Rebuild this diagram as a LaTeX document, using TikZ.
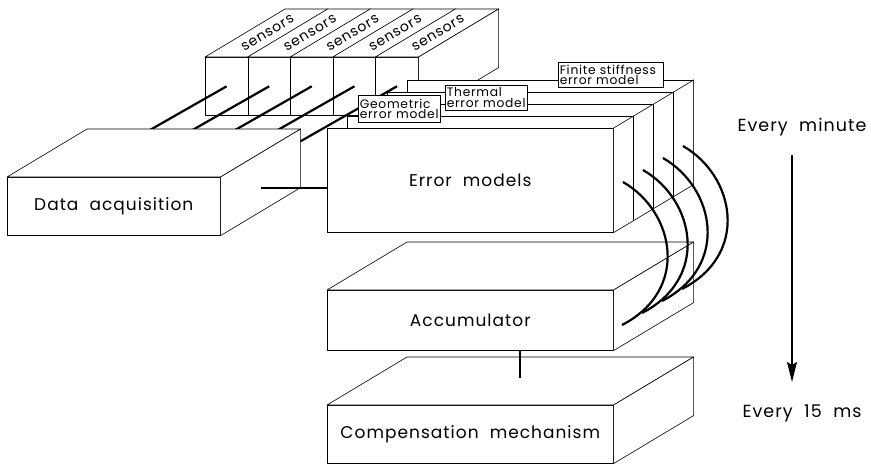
\documentclass[tikz,border=0pt]{standalone}
\usepackage{fontspec}
\setmainfont{Poppins}[LetterSpace=6,WordSpace=2]
\usetikzlibrary{calc,arrows.meta}
\tikzset{
  face/.style={draw=black, fill=white, line width=0.6pt, line join=round},
  frontface/.style={face, inner sep=0pt, anchor=north west, font=\fontsize{17}{19}\selectfont},
  tab/.style={face, inner sep=1.5pt, anchor=north west, align=left, font=\fontsize{12.3}{10.8}\selectfont, minimum height=25pt},
  conn/.style={draw=black, line width=2.2pt},
  sensorlabel/.style={font=\fontsize{14}{15}\selectfont, inner sep=0pt},
  steplabel/.style={font=\fontsize{17.5}{19}\selectfont, inner sep=0pt},
}
\newcommand\boxfaces[1]{%
  \draw[face] (#1.north west) -- ++(80,-48) -- ($(#1.north east)+(80,-48)$) -- (#1.north east) -- cycle;
  \draw[face] (#1.north east) -- ++(80,-48) -- ($(#1.south east)+(80,-48)$) -- (#1.south east) -- cycle;}
\begin{document}
\begin{tikzpicture}[x=1pt,y=-1pt]
\useasboundingbox (0,0) rectangle (871,466);
% sensors
\foreach \i in {0,...,4} {
  \node[frontface, minimum width=42.6pt, minimum height=58pt] (s\i) at ({205+42.6*\i},57) {};
  \draw[face] (s\i.north west) -- ++(80,-48) -- ($(s\i.north east)+(80,-48)$) -- (s\i.north east) -- cycle;
  \node[sensorlabel] (sl\i) at ($(s\i.north)+(41,-24)$) {\rotatebox{31}{sensors}};
}
\draw[face] (s4.north east) -- ++(80,-48) -- ($(s4.south east)+(80,-48)$) -- (s4.south east) -- cycle;
% sensor connectors
\foreach \i in {0,...,4} {
  \coordinate (sx\i) at ($(s\i.center)+(-100,57)$);
  \draw[conn] (s\i.center) -- (sx\i);
}
% data acquisition
\node[frontface, minimum width=213pt, minimum height=58pt] (da) at (7,177) {Data acquisition};
\boxfaces{da}
\coordinate (dq) at (261,188);
% error model cards
\node[face, minimum width=286pt, minimum height=104pt, anchor=north west] (c4) at (407,80) {};
\node[tab, text width=102pt] (tfin) at (558,62) {Finite stiffness\\error model};
\node[face, minimum width=286pt, minimum height=104pt, anchor=north west] (c3) at (387,92) {};
\node[face, minimum width=286pt, minimum height=104pt, anchor=north west] (c2) at (367,104) {};
\node[tab, text width=79pt] (tthe) at (445,85) {Thermal\\error model};
\node[face, minimum width=286pt, minimum height=104pt, anchor=north west] (c1) at (347,116) {};
\node[tab, text width=79pt, minimum height=27pt] (tgeo) at (358,95) {Geometric\\error model};
% error models box
\node[frontface, minimum width=286pt, minimum height=104pt] (em) at (327,128) {Error models};
\draw[face] (em.north east) -- ++(80,-48) -- ($(em.south east)+(80,-48)$) -- (em.south east) -- cycle;
\foreach \k in {1,2,3}
  \draw[face] ($(em.north east)+(20*\k,-12*\k)$) -- ($(em.south east)+(20*\k,-12*\k)$);
\draw[conn] (dq) -- (dq -| em.west);
% accumulator and compensation
\node[frontface, minimum width=286pt, minimum height=60pt] (acc) at (327,290) {Accumulator};
\boxfaces{acc}
\node[frontface, minimum width=286pt, minimum height=58pt] (comp) at (327,405) {Compensation mechanism};
\boxfaces{comp}
\coordinate (cm) at (520,378);
\draw[conn] (acc.south -| cm) -- (cm);
% arcs
\foreach \k in {0,...,3} {
  \coordinate (as\k) at ({623+20*\k},{182-12*\k});
  \coordinate (ae\k) at ({622+20*\k},{325-12*\k});
  \draw[conn] (as\k) .. controls +(52,30) and +(68,-35) .. (ae\k);
}
% time scale
\node[steplabel] (t1) at (802,127) {Every minute};
\node[steplabel] (t2) at (802,413) {Every 15 ms};
\coordinate (ar1) at (792,155);
\coordinate (ar2) at (792,382);
\draw[line width=1.5pt, -{Stealth[length=20pt,width=10pt,inset=3pt]}] (ar1) -- (ar2);
\end{tikzpicture}
\end{document}
